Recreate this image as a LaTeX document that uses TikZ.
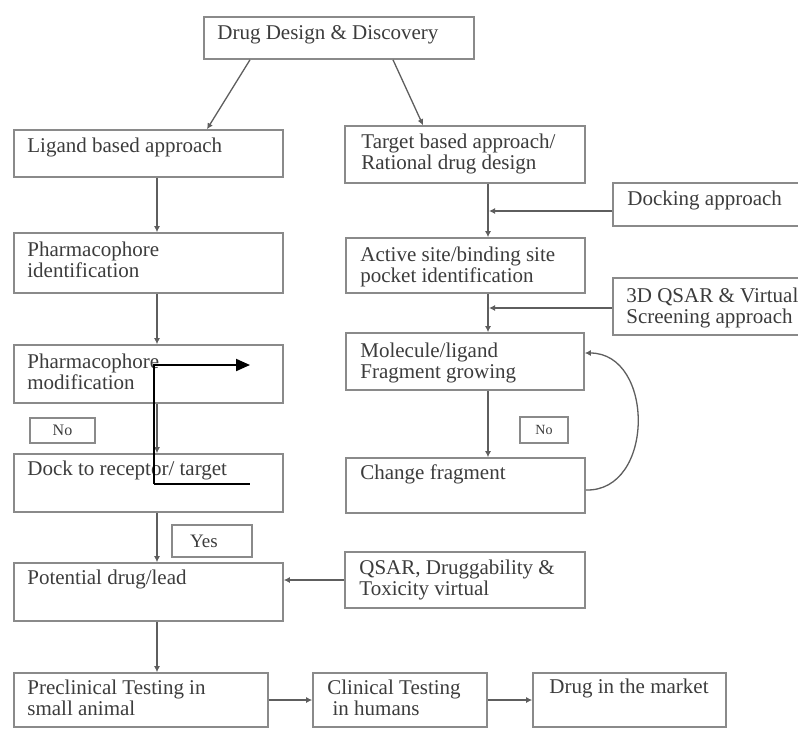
\documentclass[tikz,border=0pt]{standalone}
\usepackage{fontspec}
\setmainfont{Liberation Serif}
\usetikzlibrary{arrows.meta}
\definecolor{boxc}{HTML}{8A8A8A}
\definecolor{arrc}{HTML}{5E5E5E}
\definecolor{txtc}{HTML}{3C3C3C}
\begin{document}
\begin{tikzpicture}[x=1pt,y=-1pt,
  box/.style={draw=boxc,line width=1.6pt,rectangle,inner sep=0pt},
  txt/.style={anchor=north west,inner sep=0pt,align=left,text=txtc,font=\fontsize{21}{21.5}\selectfont},
  arr/.style={draw=arrc,line width=1.3pt,-{Latex[length=6pt,width=6pt]}},
  over/.style={draw=black,line width=2pt}]
\useasboundingbox (0,0) rectangle (798,729);
\clip (0,0) rectangle (798,729);
\fill[white] (0,0) rectangle (798,729);
% boxes
\node[box,minimum width=270pt,minimum height=42pt] (top) at (339,38) {};
\node[box,minimum width=269pt,minimum height=47pt] (lig) at (148.5,153.5) {};
\node[box,minimum width=240pt,minimum height=57pt] (tgt) at (465,154.5) {};
\node[box,minimum width=230pt,minimum height=43pt] (dock) at (728,204.5) {};
\node[box,minimum width=269pt,minimum height=60pt] (ph1) at (148.5,263) {};
\node[box,minimum width=239pt,minimum height=55pt] (act) at (465.5,265.5) {};
\node[box,minimum width=230pt,minimum height=57pt] (q3d) at (728,306.5) {};
\node[box,minimum width=269pt,minimum height=58pt] (ph2) at (148.5,374) {};
\node[box,minimum width=238pt,minimum height=57pt] (mol) at (465,361.5) {};
\node[box,minimum width=65pt,minimum height=25pt] (no1) at (62.5,430.5) {};
\node[box,minimum width=48pt,minimum height=26pt] (no2) at (544,430) {};
\node[box,minimum width=269pt,minimum height=58pt] (dkr) at (148.5,483) {};
\node[box,minimum width=239pt,minimum height=55pt] (chg) at (465.5,485.5) {};
\node[box,minimum width=80pt,minimum height=32pt] (yes) at (212,541) {};
\node[box,minimum width=269pt,minimum height=58pt] (pot) at (148.5,592) {};
\node[box,minimum width=240pt,minimum height=56pt] (qsar) at (465,580) {};
\node[box,minimum width=254pt,minimum height=54pt] (pre) at (141,700) {};
\node[box,minimum width=174pt,minimum height=54pt] (cli) at (400,700) {};
\node[box,minimum width=193pt,minimum height=54pt] (mkt) at (629.5,700) {};
% texts
\node[txt] (topT) at ([xshift=14pt,yshift=-8pt]top.north west) {\strut Drug Design \& Discovery};
\node[txt] (ligT) at ([xshift=14pt,yshift=-8pt]lig.north west) {\strut Ligand based approach};
\node[txt] (tgtT) at ([xshift=17pt,yshift=-8pt]tgt.north west) {\strut Target based approach/\\Rational drug design};
\node[txt] (dockT) at ([xshift=15pt,yshift=-8pt]dock.north west) {\strut Docking approach};
\node[txt] (ph1T) at ([xshift=14pt,yshift=-9pt]ph1.north west) {\strut Pharmacophore\\identification};
\node[txt] (actT) at ([xshift=15pt,yshift=-9pt]act.north west) {\strut Active site/binding site\\pocket identification};
\node[txt] (q3dT) at ([xshift=14pt,yshift=-10pt]q3d.north west) {\strut 3D QSAR \& Virtual\\Screening approach};
\node[txt] (ph2T) at ([xshift=14pt,yshift=-9pt]ph2.north west) {\strut Pharmacophore\\modification};
\node[txt] (molT) at ([xshift=15pt,yshift=-10pt]mol.north west) {\strut Molecule/ligand\\Fragment growing};
\node[anchor=center,inner sep=0pt,text=txtc,font=\fontsize{16}{17}\selectfont] (no1T) at (no1) {No};
\node[anchor=center,inner sep=0pt,text=txtc,font=\fontsize{14}{15}\selectfont] (no2T) at (no2) {No};
\node[txt] (dkrT) at ([xshift=14pt,yshift=-7pt]dkr.north west) {\strut Dock to receptor/ target};
\node[txt] (chgT) at ([xshift=15pt,yshift=-7pt]chg.north west) {\strut Change fragment};
\node[anchor=center,inner sep=0pt,text=txtc,font=\fontsize{19}{20}\selectfont] (yesT) at ([xshift=-8pt]yes) {Yes};
\node[txt] (potT) at ([xshift=14pt,yshift=-7pt]pot.north west) {\strut Potential drug/lead};
\node[txt] (qsarT) at ([xshift=15pt,yshift=-8pt]qsar.north west) {\strut QSAR, Druggability \&\\Toxicity virtual};
\node[txt] (preT) at ([xshift=14pt,yshift=-7pt]pre.north west) {\strut Preclinical Testing in\\small animal};
\node[txt] (cliT) at ([xshift=15pt,yshift=-7pt]cli.north west) {\strut Clinical Testing\\\ in humans};
\node[txt] (mktT) at ([xshift=17pt,yshift=-6pt]mkt.north west) {\strut Drug in the market};
% connectors
\draw[arr] ([xshift=-89pt]top.south) -- ([xshift=58.5pt]lig.north);
\draw[arr] ([xshift=54pt]top.south) -- ([xshift=-42pt]tgt.north);
\draw[arr] ([xshift=8.5pt]lig.south) -- ([xshift=8.5pt]ph1.north);
\draw[arr] ([xshift=8.5pt]ph1.south) -- ([xshift=8.5pt]ph2.north);
\draw[arr] ([xshift=8.5pt]ph2.south) -- ([xshift=8.5pt]dkr.north);
\draw[arr] ([xshift=8.5pt]dkr.south) -- ([xshift=8.5pt]pot.north);
\draw[arr] ([xshift=8.5pt]pot.south) -- ([xshift=16pt]pre.north);
\draw[arr] ([xshift=23pt]tgt.south) -- ([xshift=22.5pt]act.north);
\draw[arr] ([xshift=22.5pt]act.south) -- ([xshift=23pt]mol.north);
\draw[arr] ([xshift=23pt]mol.south) -- ([xshift=22.5pt]chg.north);
\coordinate (j1) at (489,211);
\coordinate (j2) at (489,308);
\draw[arr] ([yshift=-6.5pt]dock.west) -- (j1);
\draw[arr] ([yshift=-1.5pt]q3d.west) -- (j2);
\draw[arr] ([yshift=-4.5pt]chg.east) .. controls (655,492) and (655,353) .. ([yshift=8.5pt]mol.east);
\draw[arr] (qsar.west) -- (qsar.west -| pot.east);
\draw[arr] (pre.east) -- (cli.west);
\draw[arr] (cli.east) -- (mkt.west);
% black overlay lines
\coordinate (b1) at (154,484);
\coordinate (b2) at (154,365);
\coordinate (b3) at (250,365);
\coordinate (b4) at (250,484);
\draw[over,-{Triangle[length=14pt,width=12pt]}] (b1) -- (b2) -- (b3);
\draw[over] (b1) -- (b4);
\end{tikzpicture}
\end{document}
